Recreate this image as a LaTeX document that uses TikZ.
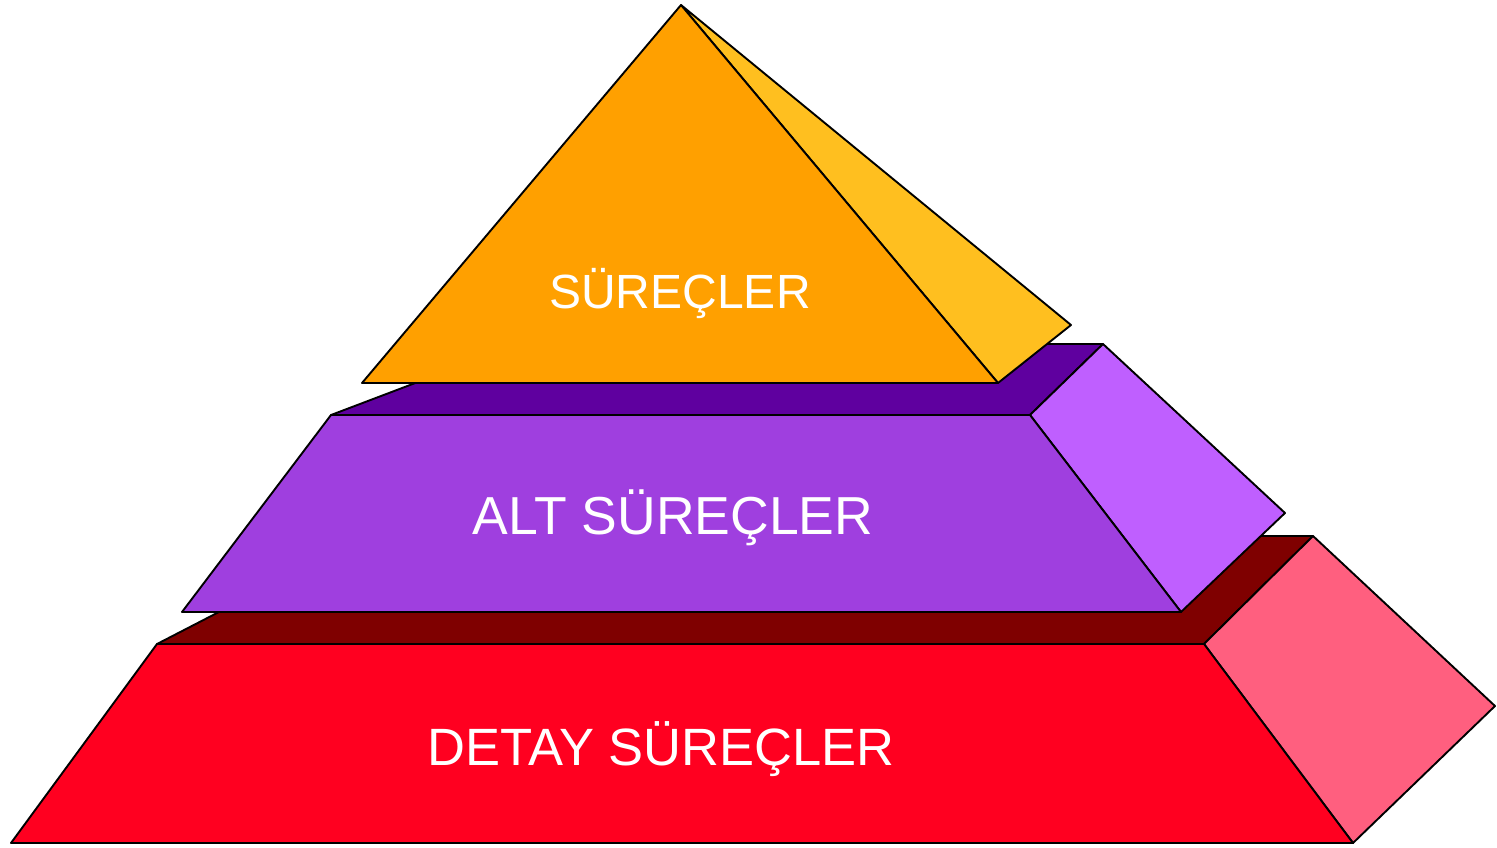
\documentclass[tikz,border=0pt]{standalone}
\usepackage{fontspec}
\setmainfont{Liberation Sans}
\definecolor{topfront}{HTML}{FFA000}
\definecolor{topside}{HTML}{FFBF1F}
\definecolor{midtop}{HTML}{5F009F}
\definecolor{midfront}{HTML}{9F3FDF}
\definecolor{midside}{HTML}{BF5FFF}
\definecolor{lowtop}{HTML}{7F0000}
\definecolor{lowfront}{HTML}{FF0020}
\definecolor{lowside}{HTML}{FF5F7F}
\tikzset{
  face/.style={draw=black, line width=1.9pt, line join=round},
  label/.style={text=white, anchor=base, inner sep=0pt},
}
\begin{document}
\begin{tikzpicture}[x=1pt, y=-1pt]
\useasboundingbox (0,0) rectangle (1497,848);
% vertices of the bottom layer
\coordinate (lfl) at (157,644);  \coordinate (lfr) at (1204,644);
\coordinate (lbr) at (1353,843); \coordinate (lbl) at (11,843);
\coordinate (lkl) at (366,536);  \coordinate (lkr) at (1313,536);
\coordinate (lsr) at (1495,706);
% vertices of the middle layer
\coordinate (mfl) at (331,415);  \coordinate (mfr) at (1030,415);
\coordinate (mbr) at (1181,612); \coordinate (mbl) at (182,612);
\coordinate (mkl) at (518,344);  \coordinate (mkr) at (1103,344);
\coordinate (msr) at (1285,513);
% vertices of the top pyramid
\coordinate (apex) at (681,5);
\coordinate (tbl) at (362,383);  \coordinate (tbr) at (998,383);
\coordinate (tsr) at (1071,325);

% bottom layer
\draw[face, fill=lowtop] (lfl) -- (lkl) -- (lkr) -- (lfr) -- cycle;
\draw[face, fill=lowside] (lfr) -- (lkr) -- (lsr) -- (lbr) -- cycle;
\draw[face, fill=lowfront] (lfl) -- (lfr) -- (lbr) -- (lbl) -- cycle;
% middle layer
\draw[face, fill=midtop] (mfl) -- (mkl) -- (mkr) -- (mfr) -- cycle;
\draw[face, fill=midside] (mfr) -- (mkr) -- (msr) -- (mbr) -- cycle;
\draw[face, fill=midfront] (mfl) -- (mfr) -- (mbr) -- (mbl) -- cycle;
% top pyramid
\draw[face, fill=topside] (apex) -- (tsr) -- (tbr) -- cycle;
\draw[face, fill=topfront] (apex) -- (tbr) -- (tbl) -- cycle;

\node[label, font=\fontsize{48}{48}\selectfont] (t1) at (680,308) {SÜREÇLER};
\node[label, font=\fontsize{53.5}{53.5}\selectfont] (t2) at (673,534) {ALT SÜREÇLER};
\node[label, font=\fontsize{52.5}{52.5}\selectfont] (t3) at (661,765) {DETAY SÜREÇLER};
\end{tikzpicture}
\end{document}
